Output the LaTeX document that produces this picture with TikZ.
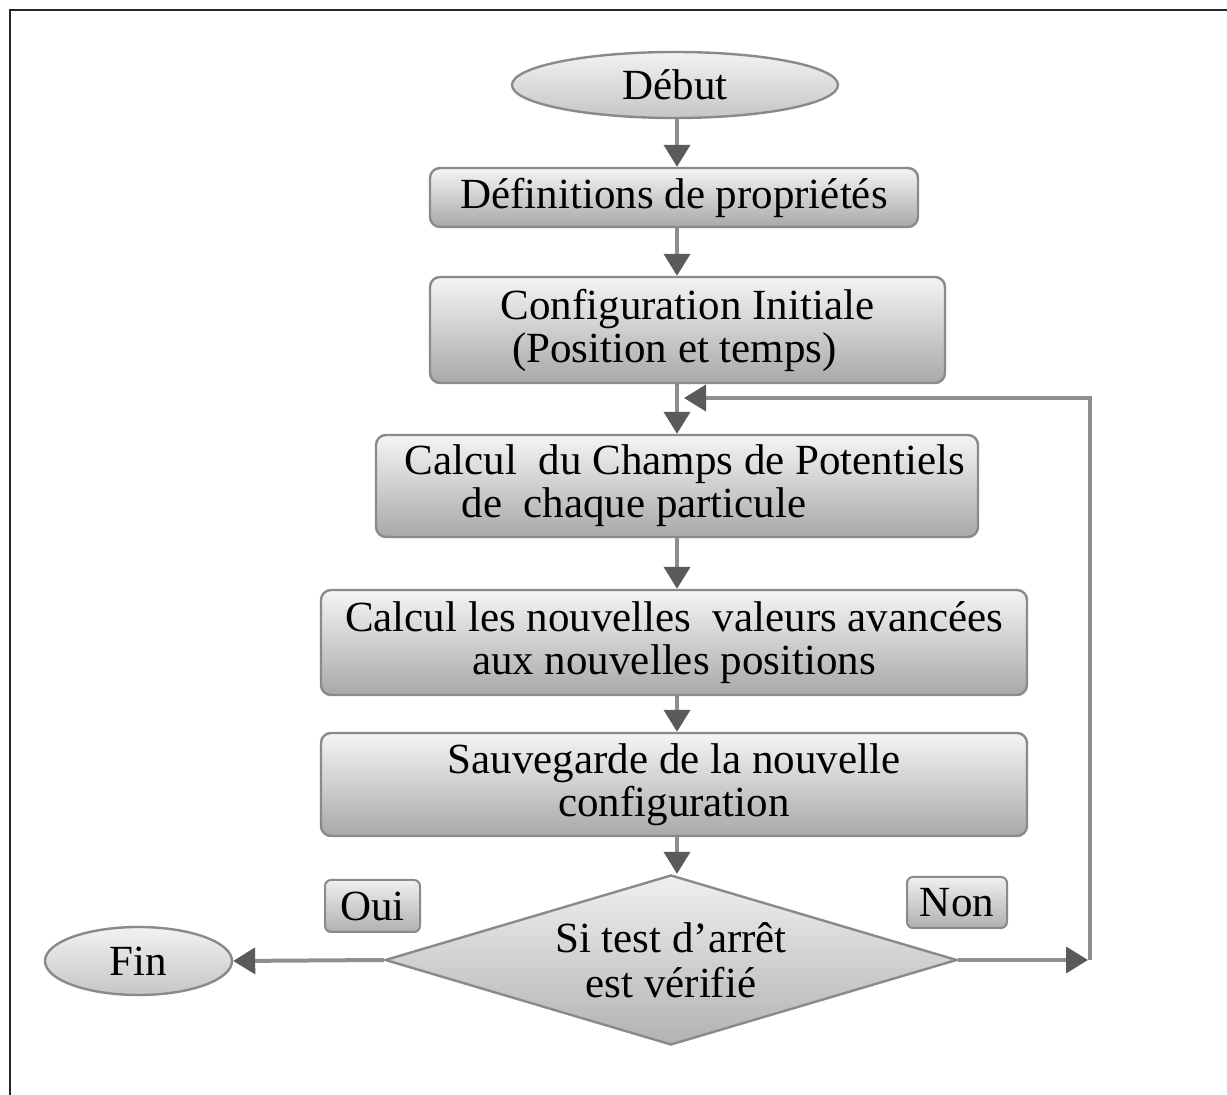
\documentclass[tikz,border=0pt]{standalone}
\usepackage{fontspec}
\setmainfont{Liberation Serif}
\usetikzlibrary{shapes.geometric,arrows.meta}
\definecolor{linegray}{HTML}{8E8E8E}
\definecolor{tipgray}{HTML}{5A5A5A}
\definecolor{edgegray}{HTML}{8A8A8A}
\tikzset{
  txt/.style={font=\fontsize{21.5}{21.5}\selectfont, align=center, inner sep=0pt},
  stepbox/.style={txt, rectangle, rounded corners=5pt, draw=edgegray, line width=1.2pt,
    top color=gray!8, bottom color=gray!68},
  tagbox/.style={txt, rectangle, rounded corners=3pt, draw=edgegray, line width=1pt,
    top color=gray!12, bottom color=gray!62},
  term/.style={txt, ellipse, draw=edgegray, line width=1.2pt,
    top color=gray!10, bottom color=gray!45},
  decision/.style={txt, diamond, aspect=3.4, draw=edgegray, line width=1.2pt,
    top color=gray!12, bottom color=gray!60},
  flow/.style={draw=linegray, line width=2pt,
    -{Triangle[length=11pt,width=13pt,color=tipgray]}},
  loopline/.style={draw=linegray, line width=2pt},
}
\begin{document}
\begin{tikzpicture}[x=0.5pt,y=-0.5pt]
\useasboundingbox (0,0) rectangle (1227,1095);

% outer frame (open on the right and bottom)
\draw[line width=1.3pt, black!85] (10,1095) -- (10,10) -- (1227,10);

% nodes
\node[term, minimum width=163pt, minimum height=33pt] (debut) at (675,85) {Début};
\node[stepbox, minimum width=244pt, minimum height=29.5pt] (defs) at (674,197.5)
  {Définitions de propriétés};
\node[stepbox, minimum width=257.5pt, minimum height=53pt] (init) at (687.5,330)
  {Configuration Initiale\\(Position et temps)\hspace*{13pt}};
\node[stepbox, minimum width=301pt, minimum height=51pt] (champ) at (677,486)
  {\hspace*{8pt}Calcul\ \ du Champs de Potentiels\\de\ \ chaque particule\hspace*{43pt}};
\node[stepbox, minimum width=353pt, minimum height=52.5pt] (calc) at (674,642.5)
  {Calcul les nouvelles\ \ valeurs avancées\\aux nouvelles positions};
\node[stepbox, minimum width=353pt, minimum height=51.5pt] (save) at (674,784.5)
  {Sauvegarde de la nouvelle\\configuration};
\node[decision, minimum width=286pt, minimum height=85pt] (test) at (671,960)
  {Si test d’arrêt\\[1pt]est vérifié};
\node[term, minimum width=93.5pt, minimum height=34pt] (fin) at (138.5,961) {Fin};
\node[tagbox, minimum width=47.5pt, minimum height=26pt] (oui) at (372.5,906) {Oui};
\node[tagbox, minimum width=50pt, minimum height=25.5pt] (non) at (957,902.5) {Non};

% helper coordinates
\coordinate (col) at (677,0);
\coordinate (corner) at (1090,960);
\coordinate (back) at (684,398);

% main flow
\draw[flow] (debut.south -| col) -- (defs.north -| col);
\draw[flow] (defs.south -| col) -- (init.north -| col);
\draw[flow] (init.south -| col) -- (champ.north -| col);
\draw[flow] (champ.south -| col) -- (calc.north -| col);
\draw[flow] (calc.south -| col) -- (save.north -| col);
\draw[flow] (save.south -| col) -- (test.north -| col);

% exits of the test
\draw[flow] (test.west) -- (fin.east);
\draw[loopline] (corner) -- (corner |- back) -- ([xshift=10pt]back);
\draw[flow] (test.east) -- ([xshift=-1pt]corner);
\draw[flow] ([xshift=10pt]back) -- (back);
\end{tikzpicture}
\end{document}
